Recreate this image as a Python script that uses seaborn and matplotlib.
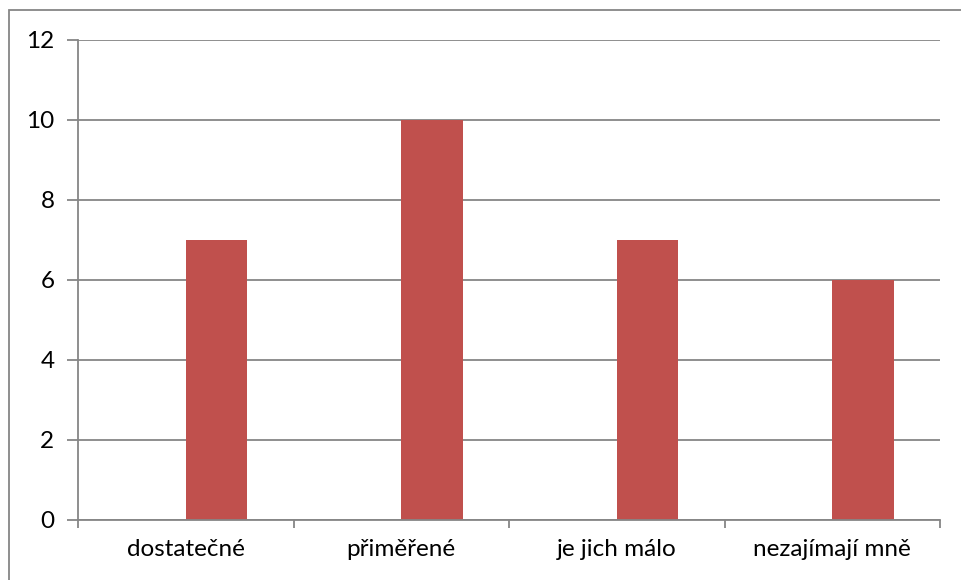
import pandas as pd
import seaborn as sns
import matplotlib.pyplot as plt
from matplotlib.patches import Rectangle
from matplotlib.ticker import FixedLocator, MultipleLocator

categories = ['dostatečné', 'přiměřené', 'je jich málo', 'nezajímají mně']
empty_series = [0, 0, 0, 0]
values = [7, 10, 7, 6]

df = pd.DataFrame({
    'kategorie': categories * 2,
    'rada': ['1'] * 4 + ['2'] * 4,
    'pocet': empty_series + values,
})

sns.set_style('white')
plt.rcParams['font.family'] = ['Lato', 'DejaVu Sans']

fig = plt.figure(figsize=(9.61, 5.8), dpi=100)
ax = fig.add_axes([78 / 961, 1 - 520 / 580, (940 - 78) / 961, 480 / 580])

sns.barplot(data=df, x='kategorie', y='pocet', hue='rada', order=categories,
            palette=['white', '#C0504D'], width=0.571, dodge=True,
            legend=False, ax=ax, linewidth=0, saturation=1)

ax.set_ylim(0, 12)
ax.set_xlim(-0.5, 3.5)
ax.yaxis.set_major_locator(MultipleLocator(2))
ax.yaxis.grid(True, color='#868686', linewidth=1.3)
ax.set_axisbelow(True)

ax.xaxis.set_major_locator(FixedLocator([-0.5, 0.5, 1.5, 2.5, 3.5]))
ax.xaxis.set_major_formatter(plt.NullFormatter())
ax.xaxis.set_minor_locator(FixedLocator([0, 1, 2, 3]))
ax.set_xticklabels(categories, minor=True)
ax.tick_params(axis='x', which='major', length=6, width=1.3, color='#868686', direction='out', bottom=True)
ax.tick_params(axis='x', which='minor', length=0, pad=14, labelsize=17.5, labelcolor='black')
ax.tick_params(axis='y', length=8, width=1.3, color='#868686', direction='out', left=True, pad=9,
               labelsize=17.5, labelcolor='black')

for side in ['top', 'right']:
    ax.spines[side].set_visible(False)
for side in ['left', 'bottom']:
    ax.spines[side].set_color('#868686')
    ax.spines[side].set_linewidth(1.3)

ax.set_xlabel('')
ax.set_ylabel('')

fig.patches.append(Rectangle((9 / 961, -0.1), 1.2, 1 - 10 / 580 + 0.1,
                             transform=fig.transFigure, fill=False,
                             edgecolor='#868686', linewidth=1.3))

plt.savefig('out.png', dpi=100)
plt.close()
